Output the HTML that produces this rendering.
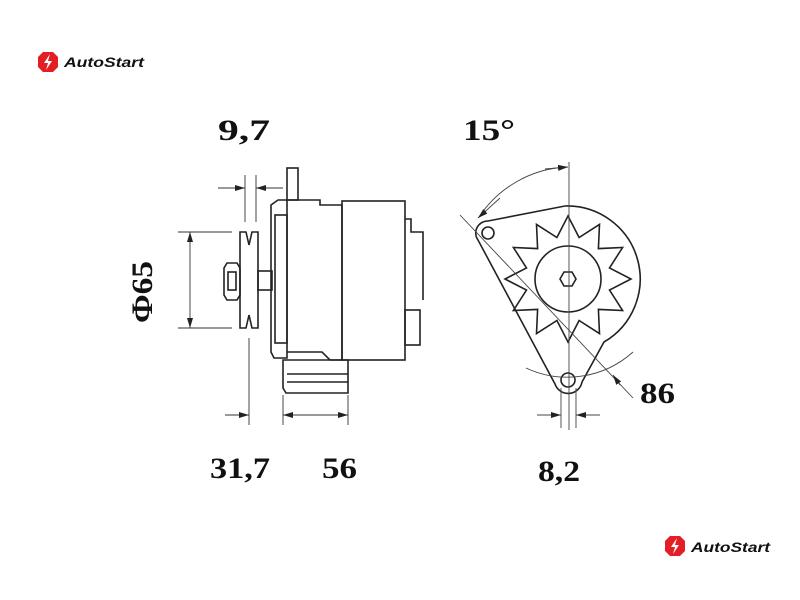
<!DOCTYPE html>
<html><head><meta charset="utf-8"><style>
html,body{margin:0;padding:0;background:#fff;}
svg{display:block}
.t{font-family:"Liberation Serif",serif;font-weight:bold;font-size:30px;fill:#111}
.l{font-family:"Liberation Sans",sans-serif;font-style:italic;font-weight:bold;font-size:14px;fill:#111}
</style></head><body>
<svg width="800" height="600" viewBox="0 0 800 600" xmlns="http://www.w3.org/2000/svg">
<defs>
<marker id="a" markerWidth="10" markerHeight="6" refX="10" refY="3" orient="auto" markerUnits="userSpaceOnUse"><path d="M0,0 L10,3 L0,6 Z" fill="#222"/></marker>
</defs>
<g transform="translate(38,52)">
<path d="M5,0 L15,0 L20,5 L20,15 L15,20 L5,20 L0,15 L0,5 Z" fill="#e31e24"/>
<path d="M12,2 L6,11 L10,11 L8,18 L14,9 L10,9 Z" fill="#fff"/>
<text x="26" y="15" class="l" textLength="80" lengthAdjust="spacingAndGlyphs">AutoStart</text>
</g>
<g transform="translate(665,536)">
<path d="M5,0 L15,0 L20,5 L20,15 L15,20 L5,20 L0,15 L0,5 Z" fill="#e31e24"/>
<path d="M12,2 L6,11 L10,11 L8,18 L14,9 L10,9 Z" fill="#fff"/>
<text x="26" y="16" class="l" textLength="79" lengthAdjust="spacingAndGlyphs">AutoStart</text>
</g>

<g fill="none" stroke="#222" stroke-width="1.6">
<rect x="287" y="168" width="11" height="32"/>
<path d="M278,200 L287,200 L287,358 L274,358 L271,352 L271,205 Z"/>
<rect x="275" y="215" width="12" height="128"/>
<path d="M287,200 L320,200 L320,205 L342,205 L342,360 L330,360 L322,352 L287,352"/>
<rect x="342" y="201" width="63" height="159"/>
<path d="M405,219 L411,219 L411,232 L423,232 L423,300"/>
<rect x="405" y="310" width="15" height="35"/>
<path d="M283,360 L348,360 L348,393 L286,393 L283,388 Z"/>
<line x1="287" y1="374" x2="348" y2="374"/>
<line x1="287" y1="382" x2="348" y2="382"/>
<path d="M240,232 L246,232 L249,245 L252,232 L258,232 L258,328 L252,328 L249,315 L246,328 L240,328 Z"/>
<rect x="258" y="271" width="14" height="19"/>
<path d="M227,263 L237,263 L240,268 L240,295 L237,300 L227,300 L224,295 L224,268 Z"/>
<rect x="228" y="272" width="8" height="18"/>
</g>
<g fill="none" stroke="#333" stroke-width="0.9">
<line x1="245" y1="175" x2="245" y2="222"/>
<line x1="256" y1="175" x2="256" y2="222"/>
<line x1="218" y1="188" x2="245" y2="188" marker-end="url(#a)"/>
<line x1="283" y1="188" x2="256" y2="188" marker-end="url(#a)"/>
<line x1="178" y1="232" x2="232" y2="232"/>
<line x1="178" y1="328" x2="232" y2="328"/>
<line x1="190" y1="260" x2="190" y2="232" marker-end="url(#a)"/>
<line x1="190" y1="300" x2="190" y2="328" marker-end="url(#a)"/>
<line x1="190" y1="260" x2="190" y2="300"/>
<line x1="249" y1="338" x2="249" y2="425"/>
<line x1="283" y1="395" x2="283" y2="425"/>
<line x1="348" y1="395" x2="348" y2="425"/>
<line x1="225" y1="415" x2="249" y2="415" marker-end="url(#a)"/>
<line x1="300" y1="415" x2="283" y2="415" marker-end="url(#a)"/>
<line x1="320" y1="415" x2="348" y2="415" marker-end="url(#a)"/>
<line x1="300" y1="415" x2="320" y2="415"/>
</g>

<g fill="none" stroke="#222" stroke-width="1.6">
<path d="M478,240 A12,12 0 0 1 488,221 L565,206 A73,73 0 0 1 604,342 L582,382 A14,14 0 0 1 555,384 Z"/>
<circle cx="488" cy="233" r="6"/>
<circle cx="568" cy="380" r="7"/>
<circle cx="568" cy="279" r="33"/>
<path d="M560,279 L564,272 L572,272 L576,279 L572,286 L564,286 Z"/>
<polygon points="568,216 579.1,237.5 599.5,224.4 598.4,248.6 622.6,247.5 609.5,267.9 631,279 609.5,290.1 622.6,310.5 598.4,309.4 599.5,333.6 579.1,320.5 568,342 556.9,320.5 536.5,333.6 537.6,309.4 513.4,310.5 526.5,290.1 505,279 526.5,267.9 513.4,247.5 537.6,248.6 536.5,224.4 556.9,237.5"/>
</g>
<g fill="none" stroke="#444" stroke-width="0.9">
<line x1="569" y1="162" x2="569" y2="430"/>
<line x1="460" y1="215" x2="633" y2="398"/>
<path d="M479,217 A112,112 0 0 1 566,167"/>
<line x1="500" y1="198" x2="478" y2="218" marker-end="url(#a)"/>
<line x1="545" y1="169" x2="568" y2="167" marker-end="url(#a)"/>
<path d="M526,368 A98,98 0 0 0 633,352"/>
<line x1="620" y1="385" x2="613" y2="375" marker-end="url(#a)"/>
<line x1="561" y1="388" x2="561" y2="428"/>
<line x1="576" y1="388" x2="576" y2="428"/>
<line x1="537" y1="415" x2="561" y2="415" marker-end="url(#a)"/>
<line x1="600" y1="415" x2="576" y2="415" marker-end="url(#a)"/>
</g>

<text x="218" y="140" class="t" textLength="52" lengthAdjust="spacingAndGlyphs">9,7</text>
<text x="463" y="140" class="t" textLength="52" lengthAdjust="spacingAndGlyphs">15°</text>
<text x="210" y="478" class="t" textLength="60" lengthAdjust="spacingAndGlyphs">31,7</text>
<text x="322" y="478" class="t" textLength="35" lengthAdjust="spacingAndGlyphs">56</text>
<text x="538" y="481" class="t" textLength="42" lengthAdjust="spacingAndGlyphs">8,2</text>
<text x="640" y="403" class="t" textLength="35" lengthAdjust="spacingAndGlyphs">86</text>
<text class="t" transform="translate(152,323) rotate(-90)" textLength="62" lengthAdjust="spacingAndGlyphs">Ф65</text>
</svg>
</body></html>
